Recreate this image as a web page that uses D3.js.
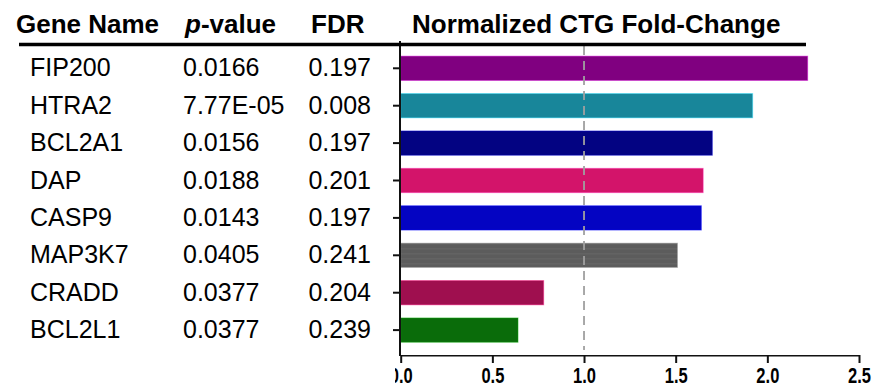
<!DOCTYPE html>
<html>
<head>
<meta charset="utf-8">
<script src="https://cdn.jsdelivr.net/npm/d3@7"></script>
<style>
  html, body { margin: 0; padding: 0; background: #fff; }
  svg { display: block; }
  text { font-family: Arial, "Liberation Sans", Helvetica, sans-serif; fill: #000; }
</style>
</head>
<body>
<svg id="chart" width="874" height="391"></svg>
<script>
// Gene table and fold-change values
const genes   = ["FIP200", "HTRA2", "BCL2A1", "DAP", "CASP9", "MAP3K7", "CRADD", "BCL2L1"];
const pValues = ["0.0166", "7.77E-05", "0.0156", "0.0188", "0.0143", "0.0405", "0.0377", "0.0377"];
const fdrs    = ["0.197", "0.008", "0.197", "0.201", "0.197", "0.241", "0.204", "0.239"];
const foldChange = [2.22, 1.92, 1.70, 1.65, 1.64, 1.51, 0.78, 0.64];
const barColors  = ["#800080", "#18869a", "#030382", "#d3146a", "#0404c2", "#5f5f5f", "#9f0f4f", "#0a6c0a"];
const xTicks = [0, 0.5, 1.0, 1.5, 2.0, 2.5];
const referenceLine = 1.0;

const svg = d3.select("#chart");

const x = d3.scaleLinear().domain([0, 2.5]).range([400.7, 859]);
const y = d3.scaleBand().domain(genes).range([49.6, 348.8])
  .paddingInner(0.35).paddingOuter(0.175);

const rows = genes.map((g, i) => ({ gene: g, p: pValues[i], fdr: fdrs[i], fc: foldChange[i], color: barColors[i] }));

// faintly banded fill used for the grey bar
const defs = svg.append("defs");
const stripes = defs.append("pattern").attr("id", "greyStripes")
  .attr("patternUnits", "userSpaceOnUse").attr("width", 8).attr("height", 5);
stripes.append("rect").attr("width", 8).attr("height", 5).attr("fill", "#5c5c5c");
stripes.append("rect").attr("y", 3).attr("width", 8).attr("height", 1.5).attr("fill", "#636363");

defs.append("clipPath").attr("id", "axisClip")
  .append("rect").attr("x", 395).attr("y", 0).attr("width", 479).attr("height", 391);

// column headers
const header = svg.append("g").attr("font-weight", "bold").attr("font-size", 26);
header.append("text").attr("x", 16).attr("y", 33).text("Gene Name");
const pv = header.append("text").attr("x", 185).attr("y", 33);
pv.append("tspan").attr("font-style", "italic").text("p");
pv.append("tspan").text("-value");
header.append("text").attr("x", 311).attr("y", 33).text("FDR");
header.append("text").attr("x", 412).attr("y", 33).text("Normalized CTG Fold-Change");

// table columns
const table = svg.append("g").attr("font-size", 25);
table.selectAll("text.gene").data(rows).join("text").attr("class", "gene")
  .attr("x", 30).attr("y", d => y(d.gene) + y.bandwidth() / 2 + 8).text(d => d.gene);
table.selectAll("text.pval").data(rows).join("text").attr("class", "pval")
  .attr("x", 183).attr("y", d => y(d.gene) + y.bandwidth() / 2 + 8).text(d => d.p);
table.selectAll("text.fdr").data(rows).join("text").attr("class", "fdr")
  .attr("x", 371).attr("text-anchor", "end")
  .attr("y", d => y(d.gene) + y.bandwidth() / 2 + 8).text(d => d.fdr);

// bars
svg.append("g").selectAll("rect").data(rows).join("rect")
  .attr("x", x(0))
  .attr("y", d => y(d.gene))
  .attr("width", d => x(d.fc) - x(0))
  .attr("height", y.bandwidth())
  .attr("fill", d => d.gene === "MAP3K7" ? "url(#greyStripes)" : d.color)
  .attr("stroke", d => d3.color(d.color).brighter(1.4))
  .attr("stroke-opacity", 0.45)
  .attr("stroke-width", 1);

// dashed reference line at fold-change 1
svg.append("line")
  .attr("x1", x(referenceLine)).attr("x2", x(referenceLine))
  .attr("y1", 46).attr("y2", 350)
  .attr("stroke", "#a0a0a0").attr("stroke-width", 1.8)
  .attr("stroke-dasharray", "9,6");

// x axis
const xAxis = svg.append("g").attr("transform", "translate(0,355)")
  .attr("clip-path", "url(#axisClip)")
  .call(d3.axisBottom(x).tickValues(xTicks).tickFormat(d3.format(".1f"))
    .tickSize(8).tickSizeOuter(0).tickPadding(4));
xAxis.select(".domain").attr("stroke", "#111").attr("stroke-width", 2);
xAxis.selectAll(".tick line").attr("stroke", "#111").attr("stroke-width", 2);
xAxis.selectAll(".tick text")
  .attr("font-size", 22).attr("font-weight", "bold")
  .attr("font-family", "Arial, 'Liberation Sans', sans-serif")
  .attr("fill", "#1a1a1a").attr("transform", "scale(0.75,1)");

// y axis
const yAxis = svg.append("g").attr("transform", `translate(${x(0) - 0.7},0)`)
  .call(d3.axisLeft(y).tickSize(7).tickSizeOuter(0).tickFormat(""));
yAxis.select(".domain").remove();
yAxis.selectAll(".tick line").attr("stroke", "#111").attr("stroke-width", 2);
yAxis.append("line").attr("x1", 0).attr("x2", 0).attr("y1", 41).attr("y2", 356)
  .attr("stroke", "#111").attr("stroke-width", 2);

// heading rule
svg.append("line").attr("x1", 19).attr("x2", 806).attr("y1", 44.5).attr("y2", 44.5)
  .attr("stroke", "#000").attr("stroke-width", 3.5);
</script>
</body>
</html>
